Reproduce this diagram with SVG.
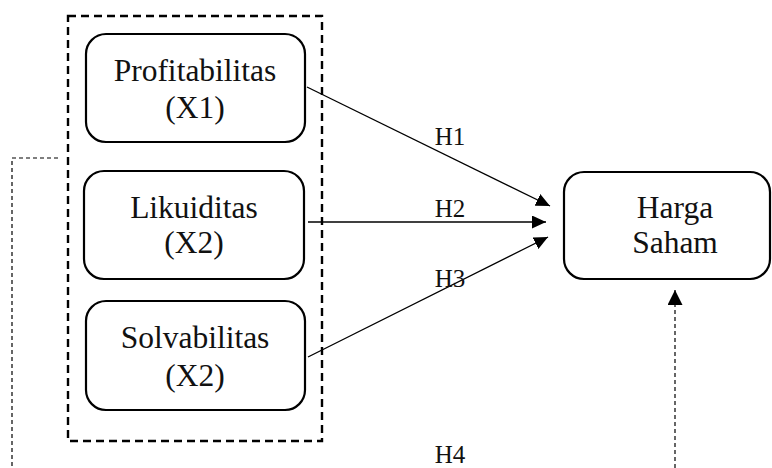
<svg xmlns="http://www.w3.org/2000/svg" width="772" height="468" viewBox="0 0 772 468">
  <style>
    .node { fill: #fff; stroke: #000; stroke-width: 2.2; }
    .label { font-family: "Liberation Serif", "Times New Roman", serif; font-size: 31.5px; fill: #111; text-anchor: middle; }
    .hyp { font-family: "Liberation Serif", "Times New Roman", serif; font-size: 25px; fill: #111; text-anchor: middle; }
    .link { stroke: #000; stroke-width: 1.3; fill: none; }
    .dotted { stroke: #000; stroke-width: 1.2; fill: none; stroke-dasharray: 4 3; }
    .group { stroke: #000; stroke-width: 2.4; fill: none; stroke-dasharray: 8 5; }
  </style>
  <defs>
    <marker id="tri" viewBox="0 0 14 13" refX="14" refY="6.5" markerWidth="14" markerHeight="13" markerUnits="userSpaceOnUse" orient="auto">
      <path d="M0,0 L14,6.5 L0,13 Z" fill="#000"/>
    </marker>
    <marker id="triSmall" viewBox="0 0 15 15" refX="15" refY="7.5" markerWidth="15" markerHeight="15" markerUnits="userSpaceOnUse" orient="auto">
      <path d="M0,0 L15,7.5 L0,15 Z" fill="#000"/>
    </marker>
  </defs>

  <!-- dashed frame around the independent variables -->
  <rect class="group" x="68" y="16" width="254" height="425"/>

  <g id="profitabilitas">
    <rect class="node" x="86" y="34" width="219" height="108" rx="20"/>
    <text class="label" x="195" y="81">Profitabilitas</text>
    <text class="label" x="195" y="118">(X1)</text>
  </g>

  <g id="likuiditas">
    <rect class="node" x="84" y="171" width="220" height="108" rx="20"/>
    <text class="label" x="194" y="218">Likuiditas</text>
    <text class="label" x="194" y="253">(X2)</text>
  </g>

  <g id="solvabilitas">
    <rect class="node" x="86" y="301" width="219" height="109" rx="20"/>
    <text class="label" x="195" y="348">Solvabilitas</text>
    <text class="label" x="195" y="386">(X2)</text>
  </g>

  <g id="harga-saham">
    <rect class="node" x="564" y="172" width="206" height="107" rx="20"/>
    <text class="label" x="675" y="218">Harga</text>
    <text class="label" x="675" y="253">Saham</text>
  </g>

  <g id="connectors">
    <line class="link" x1="307" y1="87" x2="550" y2="206" marker-end="url(#tri)"/>
    <line class="link" x1="308" y1="222" x2="546" y2="222" marker-end="url(#tri)"/>
    <line class="link" x1="308" y1="357" x2="548" y2="237" marker-end="url(#tri)"/>
    <polyline class="dotted" points="58,158 12,158 12,468"/>
    <line class="dotted" x1="675" y1="468" x2="675" y2="290" marker-end="url(#triSmall)"/>
  </g>

  <g id="hypotheses">
    <text class="hyp" x="450" y="145">H1</text>
    <text class="hyp" x="450" y="217">H2</text>
    <text class="hyp" x="450" y="287">H3</text>
    <text class="hyp" x="450" y="463">H4</text>
  </g>
</svg>
